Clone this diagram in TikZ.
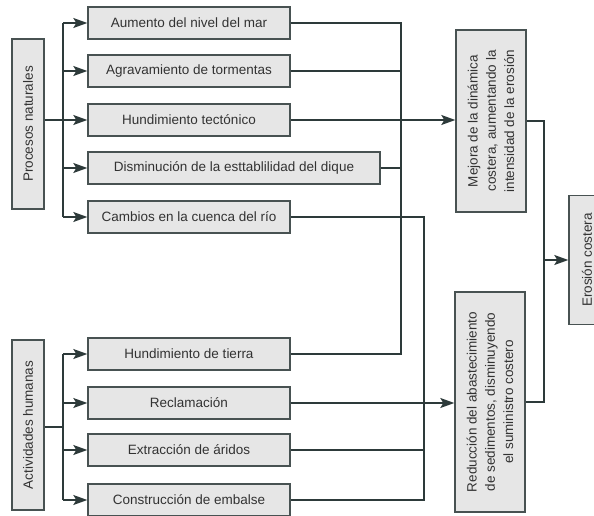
\documentclass[tikz,border=0pt]{standalone}
\usepackage{fontspec}
\setmainfont{Liberation Sans}
\usepackage{color}
\definecolor{myboxgray}{RGB}{230,230,230}
\definecolor{myedge}{RGB}{72,82,82}
\definecolor{myline}{RGB}{45,58,58}
\definecolor{mytext}{RGB}{50,50,50}
\usepackage{tikz}
\usetikzlibrary{arrows.meta,calc}
\tikzstyle{causebox}=[draw=myedge,fill=myboxgray,line width=1.4pt,minimum width=202pt,minimum height=32pt,inner sep=0pt,text=mytext,font=\fontsize{13.5}{16}\selectfont]
\tikzstyle{groupbox}=[causebox,rotate=90,minimum width=170pt]
\tikzstyle{effectbox}=[causebox,rotate=90,minimum height=70pt,align=center,font=\fontsize{13.5}{18.3}\selectfont]

\begin{document}
\begin{tikzpicture}[x=1pt,y=-1pt,line width=1.3pt,draw=myline,>={Stealth[length=14pt,width=10pt,inset=3pt]}]
\useasboundingbox (0,0) rectangle (594,516);
\clip (0,0) rectangle (594,516);
% left groups
\draw (28,124) node [groupbox] (pn) {Procesos naturales};
\draw (28,425) node [groupbox] (ah) {Actividades humanas};
% natural causes
\draw (189,23) node [causebox] (a1) {Aumento del nivel del mar};
\draw (189,71) node [causebox] (a2) {Agravamiento de tormentas};
\draw (189,120) node [causebox] (a3) {Hundimiento tectónico};
\draw (234,168) node [causebox, minimum width=292pt] (a4) {Disminución de la esttablilidad del dique};
\draw (189,217) node [causebox] (a5) {Cambios en la cuenca del río};
% human causes
\draw (189,354) node [causebox] (b1) {Hundimiento de tierra};
\draw (189,403) node [causebox] (b2) {Reclamación};
\draw (189,450) node [causebox] (b3) {Extracción de áridos};
\draw (189,500) node [causebox] (b4) {Construcción de embalse};
% effects
\draw (491,121) node [effectbox, minimum width=182pt] (mejora) {Mejora de la dinámica\\costera, aumentando la\\intensidad de la erosión};
\draw (490,402) node [effectbox, minimum width=220pt] (reduc) {Reducción del abastecimiento\\de sedimentos, disminuyendo\\el suministro costero};
\draw (587,260) node [causebox, rotate=90, minimum width=129pt, minimum height=36pt] (erosion) {Erosión costera};
% trunk coordinates
\coordinate (pt) at (63,0);
\coordinate (aj) at (0,427);
\coordinate (ca) at (401,0);
\coordinate (cb) at (424,0);
\coordinate (cc) at (544,0);
% left branches
\draw (pt |- a1.west) -- (pt |- a5.west);
\draw (pn.south |- a3.west) -- (pt |- a3.west);
\foreach \n in {a1,a2,a3,a4,a5}
  \draw[->] (pt |- \n.west) -- (\n.west);
\draw (pt |- b1.west) -- (pt |- b4.west);
\draw (ah.south |- aj) -- (pt |- aj);
\foreach \n in {b1,b2,b3,b4}
  \draw[->] (pt |- \n.west) -- (\n.west);
% collector to mejora
\draw (a1.east) -- (ca |- a1.east) -- (ca |- b1.east) -- (b1.east);
\draw (a2.east) -- (ca |- a2.east);
\draw (a4.east) -- (ca |- a4.east);
\draw[->] (a3.east) -- (mejora.north |- a3.east);
% collector to reduc
\draw (a5.east) -- (cb |- a5.east) -- (cb |- b4.east) -- (b4.east);
\draw (b3.east) -- (cb |- b3.east);
\draw[->] (b2.east) -- (reduc.north |- b2.east);
% to erosion
\draw (mejora.south) -- (cc |- mejora.south) -- (cc |- reduc.south) -- (reduc.south);
\draw[->] (cc |- erosion.north) -- (erosion.north);
\end{tikzpicture}
\end{document}
